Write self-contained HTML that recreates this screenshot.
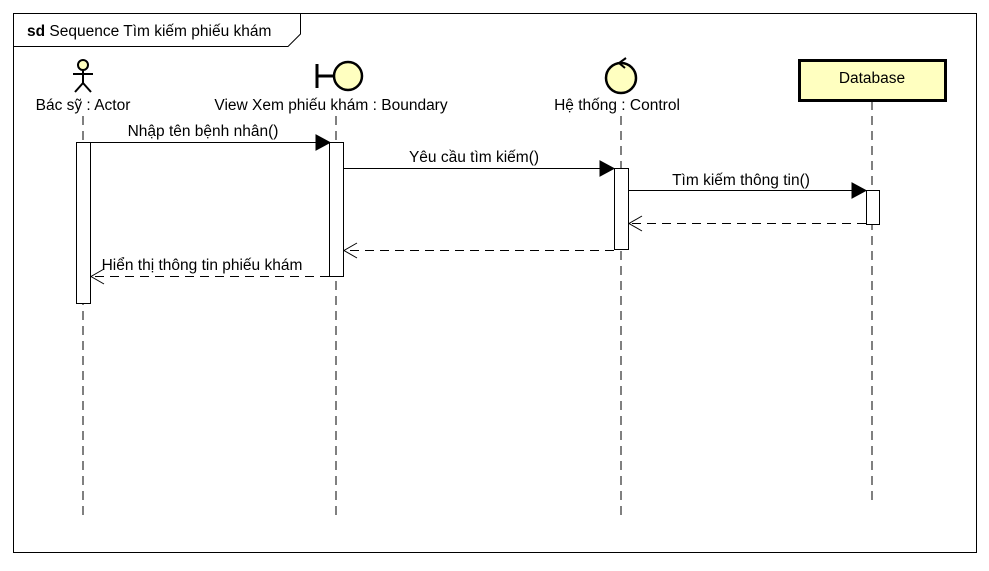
<!DOCTYPE html>
<html><head><meta charset="utf-8"><style>
body{margin:0;background:#fff}
svg text{font-family:"Liberation Sans",sans-serif;font-size:15.5px;fill:#000}
</style></head><body>
<svg width="989" height="566" viewBox="0 0 989 566" xmlns="http://www.w3.org/2000/svg">
<rect x="13.5" y="13.5" width="963" height="539" fill="#fff" stroke="#000"/>
<path d="M13.5 46.5 H288 L300.5 34 V13.5" fill="none" stroke="#000"/>
<text x="27" y="36"><tspan font-weight="bold">sd</tspan> Sequence Tìm kiếm phiếu khám</text>
<g stroke="#000" stroke-width="1" stroke-dasharray="9,6" fill="none">
<line x1="83" y1="116" x2="83" y2="515"/>
<line x1="336" y1="116" x2="336" y2="515"/>
<line x1="621" y1="116" x2="621" y2="515"/>
<line x1="872" y1="101" x2="872" y2="502"/>
</g>
<circle cx="83" cy="65" r="5" fill="#ffffc0" stroke="#000" stroke-width="2"/>
<g stroke="#000" stroke-width="2"><line x1="83" y1="70" x2="83" y2="83"/><line x1="73" y1="74" x2="93" y2="74"/><line x1="83" y1="83" x2="75" y2="92"/><line x1="83" y1="83" x2="91" y2="92"/></g>
<text x="83" y="110" text-anchor="middle">Bác sỹ : Actor</text>
<line x1="317" y1="64" x2="317" y2="88" stroke="#000" stroke-width="3"/>
<line x1="317" y1="76" x2="334" y2="76" stroke="#000" stroke-width="3"/>
<circle cx="348" cy="76" r="14" fill="#ffffc0" stroke="#000" stroke-width="2.5"/>
<text x="331" y="110" text-anchor="middle">View Xem phiếu khám : Boundary</text>
<circle cx="621" cy="78" r="15" fill="#ffffc0" stroke="#000" stroke-width="2.5"/>
<path d="M626 58 L619 63 L625 68" fill="none" stroke="#000" stroke-width="2"/>
<text x="617" y="110" text-anchor="middle">Hệ thống : Control</text>
<rect x="799.5" y="60.5" width="146" height="40" fill="#ffffc0" stroke="#000" stroke-width="3"/>
<text x="872" y="83" text-anchor="middle">Database</text>
<g fill="#fff" stroke="#000">
<rect x="76.5" y="142.5" width="14" height="161"/>
<rect x="329.5" y="142.5" width="14" height="134"/>
<rect x="614.5" y="168.5" width="14" height="81"/>
<rect x="866.5" y="190.5" width="13" height="34"/>
</g>
<g stroke="#000">
<line x1="91" y1="142.5" x2="316" y2="142.5"/><path d="M316 135 L330 142.5 L316 150Z"/>
<line x1="344" y1="168.5" x2="601" y2="168.5"/><path d="M600 161 L614 168.5 L600 176Z"/>
<line x1="629" y1="190.5" x2="853" y2="190.5"/><path d="M852 183 L866 190.5 L852 198Z"/>
</g>
<g stroke="#000" fill="none">
<line x1="866" y1="223.5" x2="629" y2="223.5" stroke-dasharray="9,6"/><path d="M642 216 L629 223.5 L642 231"/>
<line x1="614" y1="250.5" x2="344" y2="250.5" stroke-dasharray="9,6"/><path d="M357 243 L344 250.5 L357 258"/>
<line x1="329" y1="276.5" x2="91" y2="276.5" stroke-dasharray="9,6"/><path d="M104 269 L91 276.5 L104 284"/>
</g>
<text x="203" y="136" text-anchor="middle">Nhập tên bệnh nhân()</text>
<text x="474" y="162" text-anchor="middle">Yêu cầu tìm kiếm()</text>
<text x="741" y="185" text-anchor="middle">Tìm kiếm thông tin()</text>
<text x="202" y="270" text-anchor="middle">Hiển thị thông tin phiếu khám</text>
</svg>
</body></html>
